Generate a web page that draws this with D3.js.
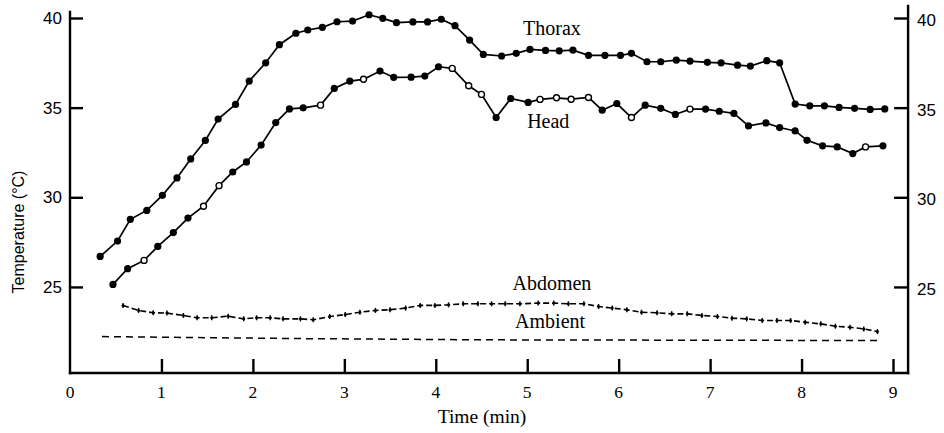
<!DOCTYPE html>
<html>
<head>
<meta charset="utf-8">
<script src="https://cdn.jsdelivr.net/npm/d3@7"></script>
<style>
  html, body { margin: 0; padding: 0; background: #fff; }
  svg { display: block; }
</style>
</head>
<body>
<svg id="chart" width="944" height="433"></svg>
<script>
// ---- data (time in min, temperature in °C) ----
const thoraxTime = [0.33,0.52,0.66,0.84,1.01,1.17,1.32,1.48,1.62,1.81,1.96,2.14,2.29,2.47,2.60,2.76,2.92,3.09,3.27,3.42,3.57,3.75,3.91,4.06,4.21,4.37,4.52,4.72,4.88,5.03,5.20,5.35,5.50,5.67,5.85,6.02,6.14,6.31,6.46,6.63,6.78,6.97,7.12,7.30,7.44,7.62,7.76,7.93,8.09,8.25,8.41,8.58,8.75,8.91];
const thoraxTemp = [26.7,27.56,28.77,29.27,30.11,31.08,32.14,33.17,34.36,35.18,36.48,37.50,38.51,39.15,39.33,39.48,39.79,39.83,40.18,39.98,39.74,39.78,39.78,39.93,39.57,38.77,37.97,37.88,38.03,38.25,38.19,38.17,38.21,37.92,37.92,37.92,38.03,37.56,37.56,37.65,37.6,37.53,37.5,37.37,37.32,37.62,37.5,35.2,35.10,35.10,35.01,34.96,34.90,34.93];

const headTime = [0.47,0.63,0.81,0.96,1.13,1.29,1.46,1.63,1.78,1.93,2.09,2.25,2.40,2.55,2.74,2.89,3.06,3.21,3.39,3.54,3.73,3.88,4.03,4.18,4.36,4.50,4.66,4.82,5.01,5.14,5.32,5.48,5.67,5.82,5.98,6.14,6.29,6.46,6.62,6.78,6.95,7.10,7.26,7.42,7.61,7.76,7.93,8.06,8.23,8.39,8.56,8.70,8.89];
const headTemp = [25.14,26.02,26.48,27.26,28.03,28.84,29.50,30.65,31.41,31.97,32.91,34.17,34.93,34.99,35.14,36.07,36.48,36.58,37.04,36.69,36.70,36.76,37.28,37.19,36.22,35.74,34.45,35.51,35.29,35.46,35.55,35.47,35.57,34.86,35.23,34.45,35.14,34.96,34.62,34.92,34.92,34.80,34.68,33.98,34.15,33.89,33.70,33.18,32.87,32.81,32.44,32.81,32.87];
// 1 = open circle, 0 = filled circle
const headOpen = [0,0,1,0,0,0,1,1,0,0, 0,0,0,0,1,0,0,1,0,0, 0,0,0,1,1,1,0,0,0,1, 1,1,1,0,0,1,0,0,0,1, 0,0,0,0,0,0,0,0,0,0, 0,1,0];

const abdomenTime = [0.58,0.75,0.91,1.06,1.24,1.39,1.55,1.73,1.90,2.04,2.19,2.33,2.52,2.66,2.84,3.01,3.17,3.34,3.50,3.67,3.83,3.99,4.14,4.30,4.46,4.61,4.76,4.92,5.12,5.29,5.45,5.62,5.78,5.93,6.09,6.25,6.42,6.58,6.75,6.91,7.08,7.24,7.40,7.57,7.73,7.88,8.04,8.21,8.37,8.53,8.68,8.83];
const abdomenTemp = [23.97,23.69,23.56,23.54,23.41,23.28,23.28,23.37,23.22,23.28,23.28,23.22,23.22,23.17,23.35,23.46,23.59,23.69,23.73,23.82,23.97,23.97,24.0,24.06,24.06,24.06,24.06,24.06,24.1,24.1,24.06,24.06,23.91,23.82,23.73,23.59,23.56,23.50,23.50,23.41,23.35,23.26,23.22,23.13,23.13,23.13,23.03,22.94,22.81,22.75,22.66,22.51];

const ambientTime = [0.35,2.5,4.5,8.84];
const ambientTemp = [22.23,22.12,22.05,22.01];

const xTicks = [0,1,2,3,4,5,6,7,8,9];
const yTicks = [25,30,35,40];

const seriesLabels = [
  {name: "Thorax", t: 5.27, v: 39.05},
  {name: "Head", t: 5.23, v: 33.87},
  {name: "Abdomen", t: 5.27, v: 24.84},
  {name: "Ambient", t: 5.25, v: 22.72}
];

// ---- scales ----
const x = d3.scaleLinear().domain([0, 9]).range([70, 893]);
const y = d3.scaleLinear().domain([20.2, 40]).range([373, 18]);
const xMax = 9.165, yTop = 40.4;

const svg = d3.select("#chart");
svg.append("rect").attr("width", 944).attr("height", 433).attr("fill", "#fff");

const serif = "'Liberation Serif', 'Times New Roman', serif";
const sans = "'Liberation Sans', Arial, sans-serif";

// ---- axes ----
const axG = svg.append("g").attr("stroke", "#000").attr("stroke-width", 2.4).attr("fill", "none");
axG.append("line").attr("x1", x(0)).attr("x2", x(0)).attr("y1", y(yTop)).attr("y2", y(20.2) + 1.2);
axG.append("line").attr("x1", x(0) - 1.2).attr("x2", x(xMax) + 1.2).attr("y1", y(20.2)).attr("y2", y(20.2));
axG.append("line").attr("x1", x(xMax)).attr("x2", x(xMax)).attr("y1", y(yTop) - 6).attr("y2", y(20.2) + 1.2);

const leftAxis = d3.axisRight(y).tickValues(yTicks).tickSize(13).tickFormat("");
const gl = svg.append("g").attr("transform", `translate(${x(0)},0)`).call(leftAxis);
gl.select(".domain").remove();
gl.selectAll(".tick line").attr("stroke", "#000").attr("stroke-width", 2.4);

const rightAxis = d3.axisLeft(y).tickValues(yTicks).tickSize(14).tickFormat("");
const gr = svg.append("g").attr("transform", `translate(${x(xMax)},0)`).call(rightAxis);
gr.select(".domain").remove();
gr.selectAll(".tick line").attr("stroke", "#000").attr("stroke-width", 2.4);

const bottomAxis = d3.axisTop(x).tickValues(xTicks.filter(d => d > 0)).tickSize(14).tickFormat("");
const gb = svg.append("g").attr("transform", `translate(0,${y(20.2)})`).call(bottomAxis);
gb.select(".domain").remove();
gb.selectAll(".tick line").attr("stroke", "#000").attr("stroke-width", 2.4);

// tick labels
svg.append("g").selectAll("text").data(xTicks).join("text")
  .attr("x", d => x(d)).attr("y", 398)
  .attr("text-anchor", "middle")
  .attr("font-family", serif).attr("font-size", 17.5)
  .text(d => d);

svg.append("g").selectAll("text").data(yTicks).join("text")
  .attr("x", x(0) - 8).attr("y", d => y(d) + 6)
  .attr("text-anchor", "end")
  .attr("font-family", sans).attr("font-size", 17)
  .text(d => d);

svg.append("g").selectAll("text").data(yTicks).join("text")
  .attr("x", x(xMax) + 9).attr("y", d => y(d) + 8)
  .attr("text-anchor", "start")
  .attr("font-family", sans).attr("font-size", 17)
  .text(d => d);

// axis titles
svg.append("text")
  .attr("transform", "translate(24,232) rotate(-90)")
  .attr("text-anchor", "middle")
  .attr("font-family", sans).attr("font-size", 16)
  .text("Temperature (°C)");

svg.append("text")
  .attr("x", 482).attr("y", 423)
  .attr("text-anchor", "middle")
  .attr("font-family", serif).attr("font-size", 19.5)
  .text("Time (min)");

// ---- series ----
const line = d3.line().x(d => x(d[0])).y(d => y(d[1]));

const thorax = thoraxTime.map((t, i) => [t, thoraxTemp[i]]);
const head = headTime.map((t, i) => [t, headTemp[i], headOpen[i]]);
const abdomen = abdomenTime.map((t, i) => [t, abdomenTemp[i]]);
const ambient = ambientTime.map((t, i) => [t, ambientTemp[i]]);

svg.append("path").datum(ambient).attr("d", line)
  .attr("fill", "none").attr("stroke", "#000").attr("stroke-width", 1.5)
  .attr("stroke-dasharray", "7,5");

svg.append("path").datum(abdomen).attr("d", line)
  .attr("fill", "none").attr("stroke", "#000").attr("stroke-width", 1.6)
  .attr("stroke-dasharray", "6,3");
const abdG = svg.append("g");
abdG.selectAll("line").data(abdomen).join("line")
  .attr("x1", d => x(d[0])).attr("x2", d => x(d[0]))
  .attr("y1", d => y(d[1]) - 2.5).attr("y2", d => y(d[1]) + 2.5)
  .attr("stroke", "#000").attr("stroke-width", 1.4);
abdG.selectAll("circle").data(abdomen).join("circle")
  .attr("cx", d => x(d[0])).attr("cy", d => y(d[1])).attr("r", 1.5).attr("fill", "#000");

svg.append("path").datum(thorax).attr("d", line)
  .attr("fill", "none").attr("stroke", "#000").attr("stroke-width", 1.7);
svg.append("g").selectAll("circle").data(thorax).join("circle")
  .attr("cx", d => x(d[0])).attr("cy", d => y(d[1])).attr("r", 3.6).attr("fill", "#000");

svg.append("path").datum(head).attr("d", line)
  .attr("fill", "none").attr("stroke", "#000").attr("stroke-width", 1.7);
svg.append("g").selectAll("circle").data(head).join("circle")
  .attr("cx", d => x(d[0])).attr("cy", d => y(d[1]))
  .attr("r", d => d[2] ? 3 : 3.6)
  .attr("fill", d => d[2] ? "#fff" : "#000")
  .attr("stroke", "#000").attr("stroke-width", d => d[2] ? 1.4 : 0);

// series labels
svg.append("g").selectAll("text").data(seriesLabels).join("text")
  .attr("x", d => x(d.t)).attr("y", d => y(d.v))
  .attr("text-anchor", "middle")
  .attr("font-family", serif).attr("font-size", 20)
  .text(d => d.name);
</script>
</body>
</html>
